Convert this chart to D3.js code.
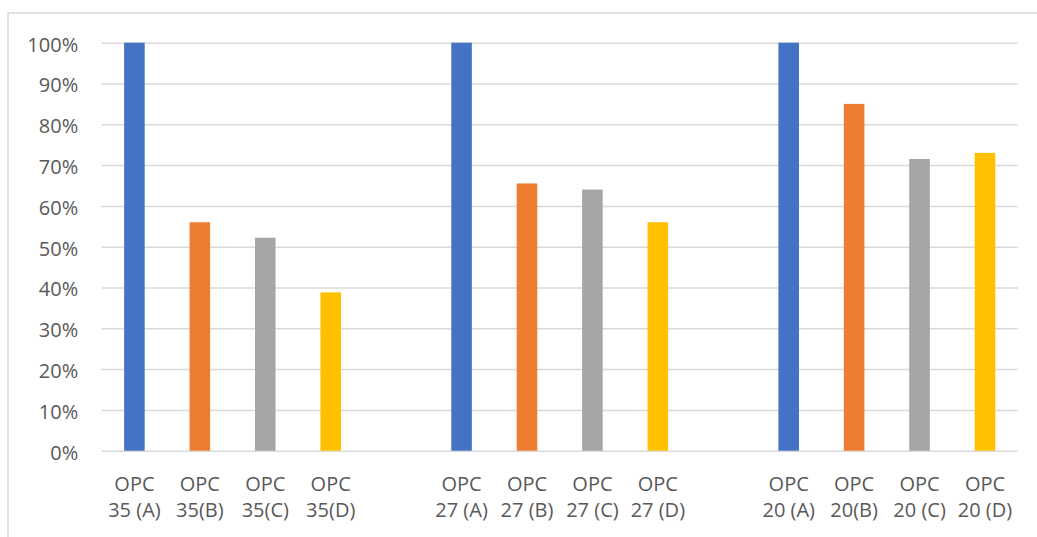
<!DOCTYPE html>
<html>
<head>
<meta charset="utf-8">
<script src="https://cdn.jsdelivr.net/npm/d3@7/dist/d3.min.js"></script>
<style>
  html, body { margin: 0; padding: 0; background: #fff; }
  svg { display: block; }
  text { font-family: "Open Sans", "Liberation Sans", sans-serif; fill: #595959; }
</style>
</head>
<body>
<script>
// Mix groups and the four variants within each group
const groups = ["OPC 35", "OPC 27", "OPC 20"];
const series = ["A", "B", "C", "D"];
const seriesColors = ["#4472C4", "#ED7D31", "#A5A5A5", "#FFC000"];

// Values in percent, one entry per group
const valuesA = [100, 100, 100];
const valuesB = [56, 65.5, 85];
const valuesC = [52.2, 64, 71.5];
const valuesD = [38.8, 56, 73];

// Category labels under each bar (two lines each)
const labelTop = "OPC";
const labelBottom = [
  ["35 (A)", "35(B)", "35(C)", "35(D)"],
  ["27 (A)", "27 (B)", "27 (C)", "27 (D)"],
  ["20 (A)", "20(B)", "20 (C)", "20 (D)"]
];

const yTicks = [0, 10, 20, 30, 40, 50, 60, 70, 80, 90, 100];

const width = 1037, height = 537;
const margin = { left: 101.7, top: 42.7 };
const plotW = 916, plotH = 408;
const fontSize = 20;

const svg = d3.select("body").append("svg")
  .attr("width", width)
  .attr("height", height);

// Chart area frame
svg.append("rect")
  .attr("x", 8).attr("y", 13)
  .attr("width", width + 20).attr("height", height + 20)
  .attr("fill", "#fff")
  .attr("stroke", "#d9d9d9")
  .attr("stroke-width", 1.5);

const g = svg.append("g").attr("transform", `translate(${margin.left},${margin.top})`);

const y = d3.scaleLinear().domain([0, 100]).range([plotH, 0]);

// Groups of four slots separated by one empty slot
const x0 = d3.scaleBand().domain(groups).range([0, plotW]).paddingInner(0.2).paddingOuter(0);
const x1 = d3.scaleBand().domain(series).range([0, x0.bandwidth()])
  .paddingInner(0.686).paddingOuter(0.343);

// Gridlines and percent labels
const yAxis = d3.axisLeft(y)
  .tickValues(yTicks)
  .tickSize(-plotW)
  .tickPadding(23.5)
  .tickFormat(d => d + "%");

const ya = g.append("g").call(yAxis);
ya.select(".domain").remove();
ya.selectAll(".tick line").attr("stroke", "#d9d9d9").attr("stroke-width", 1.5);
ya.selectAll(".tick text")
  .attr("font-size", fontSize)
  .attr("font-family", null)
  .attr("dy", "0.42em")
  .style("fill", "#595959");

// Bars
const allValues = [valuesA, valuesB, valuesC, valuesD];
const rows = [];
groups.forEach((grp, gi) => {
  series.forEach((s, si) => {
    rows.push({ group: grp, gi, series: s, si, value: allValues[si][gi] });
  });
});

g.append("g").selectAll("rect")
  .data(rows)
  .join("rect")
  .attr("x", d => x0(d.group) + x1(d.series))
  .attr("width", x1.bandwidth())
  .attr("y", d => y(d.value))
  .attr("height", d => y(0) - y(d.value))
  .attr("fill", d => seriesColors[d.si]);

// Category labels
const lbl = g.append("g").selectAll("text")
  .data(rows)
  .join("text")
  .attr("text-anchor", "middle")
  .attr("font-size", fontSize)
  .attr("transform", d => `translate(${x0(d.group) + x1(d.series) + x1.bandwidth() / 2},${plotH})`);

lbl.append("tspan").attr("x", 0).attr("y", 40).text(labelTop);
lbl.append("tspan").attr("x", 0).attr("y", 66.5).text(d => labelBottom[d.gi][d.si]);
</script>
</body>
</html>
